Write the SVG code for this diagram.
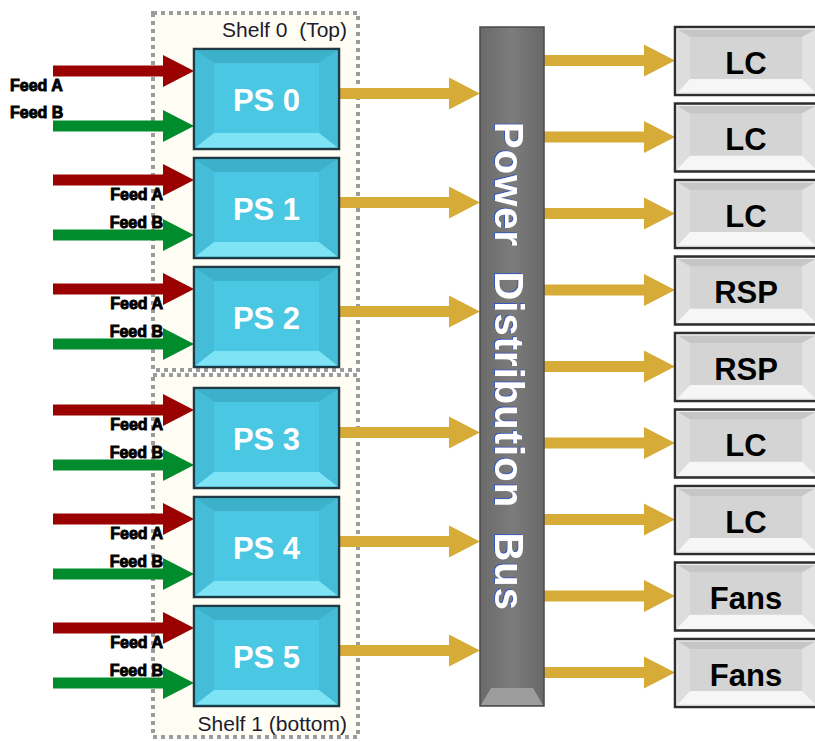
<svg xmlns="http://www.w3.org/2000/svg" xmlns:xlink="http://www.w3.org/1999/xlink" width="815" height="742" viewBox="0 0 815 742">
<style>
  .shelf { fill:#fffdf4; stroke:#9c9c9c; stroke-width:4; stroke-dasharray:4 4; }
  .shelfText { font-family:"Liberation Sans", Arial, sans-serif; font-size:21px; fill:#1c1c2e; }
  .feed { font-family:"Liberation Sans", Arial, sans-serif; font-size:16px; font-weight:bold; fill:#000; stroke:#000; stroke-width:0.9; }
  .psText { font-family:"Liberation Sans", Arial, sans-serif; font-size:31px; font-weight:bold; fill:#ffffff; text-anchor:middle; }
  .boxText { font-family:"Liberation Sans", Arial, sans-serif; font-size:31px; font-weight:bold; fill:#000; text-anchor:middle; }
  .busText { font-family:"Liberation Sans", Arial, sans-serif; font-size:40px; font-weight:bold; fill:#ffffff; }
  .red { fill:#9a0202; }
  .green { fill:#008c2c; }
  .gold { fill:#d6ab37; }
</style>
<defs>
  <path id="arrowLong" d="M0,-5.5 H110 V-16 L141,0 L110,16 V5.5 H0 Z"/>
  <path id="arrowShort" d="M0,-5.5 H101 V-16 L132,0 L101,16 V5.5 H0 Z"/>
  <g id="psShape">
    <rect x="0" y="0" width="145" height="100" fill="#48c4df" stroke="#1f3a42" stroke-width="2.5"/>
    <polygon points="1.5,1.5 143.5,1.5 125,14 20,14" fill="#3eb1ca"/>
    <polygon points="1.5,1.5 20,14 20,84 1.5,98.5" fill="#45bdd8"/>
    <polygon points="143.5,1.5 125,14 125,84 143.5,98.5" fill="#45bdd8"/>
    <polygon points="1.5,98.5 20,84 125,84 143.5,98.5" fill="#7de3f5"/>
    <rect x="20" y="14" width="105" height="70" fill="#4ac7e2"/>
  </g>
  <g id="boxShape">
    <rect x="0" y="0" width="143" height="68" fill="#d3d3d3" stroke="#2e2e2e" stroke-width="2.5"/>
    <polygon points="2.5,2.5 140.5,2.5 127,10 15,10" fill="#c6c6c6"/>
    <polygon points="2.5,2.5 15,10 15,52 2.5,65.5" fill="#dddddd"/>
    <polygon points="140.5,2.5 127,10 127,52 140.5,65.5" fill="#e2e2e2"/>
    <polygon points="2.5,65.5 15,52 127,52 140.5,65.5" fill="#f6f6f6"/>
    <rect x="15" y="10" width="112" height="42" fill="#d4d4d4"/>
    <rect x="2" y="2" width="139" height="64" fill="none" stroke="#f2f2f2" stroke-width="1"/>
  </g>
  <linearGradient id="busGrad" x1="0" y1="0" x2="1" y2="0">
    <stop offset="0" stop-color="#6a6a6a"/>
    <stop offset="0.5" stop-color="#7c7c7c"/>
    <stop offset="1" stop-color="#686868"/>
  </linearGradient>
  <filter id="busShadow" x="-20%" y="-5%" width="140%" height="110%">
    <feDropShadow dx="-1" dy="1" stdDeviation="0.6" flood-color="#2f55c8" flood-opacity="0.9"/>
  </filter>
</defs>

<g id="shelves">
  <g id="shelf0">
    <rect class="shelf" x="153" y="13" width="205" height="357"/>
    <text class="shelfText" x="347" y="37" text-anchor="end" xml:space="preserve">Shelf 0  (Top)</text>
  </g>
  <g id="shelf1">
    <rect class="shelf" x="153" y="375" width="205" height="362"/>
    <text class="shelfText" x="347" y="731" text-anchor="end">Shelf 1 (bottom)</text>
  </g>
</g>

<g id="connectors">
  <use href="#arrowLong" class="red" x="53" y="71"/>
  <use href="#arrowLong" class="red" x="53" y="180"/>
  <use href="#arrowLong" class="red" x="53" y="289"/>
  <use href="#arrowLong" class="red" x="53" y="410"/>
  <use href="#arrowLong" class="red" x="53" y="519"/>
  <use href="#arrowLong" class="red" x="53" y="628"/>
  <use href="#arrowLong" class="green" x="53" y="126"/>
  <use href="#arrowLong" class="green" x="53" y="235"/>
  <use href="#arrowLong" class="green" x="53" y="344"/>
  <use href="#arrowLong" class="green" x="53" y="465"/>
  <use href="#arrowLong" class="green" x="53" y="574"/>
  <use href="#arrowLong" class="green" x="53" y="683"/>
  <use href="#arrowLong" class="gold" x="339" y="93.5"/>
  <use href="#arrowLong" class="gold" x="339" y="202.5"/>
  <use href="#arrowLong" class="gold" x="339" y="311.5"/>
  <use href="#arrowLong" class="gold" x="339" y="432.5"/>
  <use href="#arrowLong" class="gold" x="339" y="541.5"/>
  <use href="#arrowLong" class="gold" x="339" y="650.5"/>
  <use href="#arrowShort" class="gold" x="543" y="60.5"/>
  <use href="#arrowShort" class="gold" x="543" y="137"/>
  <use href="#arrowShort" class="gold" x="543" y="213.5"/>
  <use href="#arrowShort" class="gold" x="543" y="290"/>
  <use href="#arrowShort" class="gold" x="543" y="366.5"/>
  <use href="#arrowShort" class="gold" x="543" y="443"/>
  <use href="#arrowShort" class="gold" x="543" y="519.5"/>
  <use href="#arrowShort" class="gold" x="543" y="596"/>
  <use href="#arrowShort" class="gold" x="543" y="672.5"/>
</g>

<g id="feedLabels">
  <text class="feed" x="10" y="91">Feed A</text>
  <text class="feed" x="10" y="118">Feed B</text>
  <text class="feed" x="163" y="200" text-anchor="end">Feed A</text>
  <text class="feed" x="163" y="228" text-anchor="end">Feed B</text>
  <text class="feed" x="163" y="309" text-anchor="end">Feed A</text>
  <text class="feed" x="163" y="337" text-anchor="end">Feed B</text>
  <text class="feed" x="163" y="430" text-anchor="end">Feed A</text>
  <text class="feed" x="163" y="458" text-anchor="end">Feed B</text>
  <text class="feed" x="163" y="539" text-anchor="end">Feed A</text>
  <text class="feed" x="163" y="567" text-anchor="end">Feed B</text>
  <text class="feed" x="163" y="648" text-anchor="end">Feed A</text>
  <text class="feed" x="163" y="676" text-anchor="end">Feed B</text>
</g>

<g id="ps0"><use href="#psShape" x="194" y="49"/><text class="psText" x="266.5" y="111">PS 0</text></g>
<g id="ps1"><use href="#psShape" x="194" y="158"/><text class="psText" x="266.5" y="220">PS 1</text></g>
<g id="ps2"><use href="#psShape" x="194" y="267"/><text class="psText" x="266.5" y="329">PS 2</text></g>
<g id="ps3"><use href="#psShape" x="194" y="388"/><text class="psText" x="266.5" y="450">PS 3</text></g>
<g id="ps4"><use href="#psShape" x="194" y="497"/><text class="psText" x="266.5" y="559">PS 4</text></g>
<g id="ps5"><use href="#psShape" x="194" y="606"/><text class="psText" x="266.5" y="668">PS 5</text></g>

<g id="bus">
  <rect x="480" y="27" width="64" height="679" fill="url(#busGrad)" stroke="#4a4a4a" stroke-width="1.5"/>
  <polygon points="481,705 491,688 533,688 543,705" fill="#9c9c9c"/>
  <text class="busText" filter="url(#busShadow)" transform="translate(495,122) rotate(90)" textLength="488" lengthAdjust="spacing" xml:space="preserve">Power  Distribution  Bus</text>
</g>

<g id="load1"><use href="#boxShape" x="675" y="27"/><text class="boxText" x="746" y="73.5">LC</text></g>
<g id="load2"><use href="#boxShape" x="675" y="103.5"/><text class="boxText" x="746" y="150">LC</text></g>
<g id="load3"><use href="#boxShape" x="675" y="180"/><text class="boxText" x="746" y="226.5">LC</text></g>
<g id="load4"><use href="#boxShape" x="675" y="256.5"/><text class="boxText" x="746" y="303">RSP</text></g>
<g id="load5"><use href="#boxShape" x="675" y="333"/><text class="boxText" x="746" y="379.5">RSP</text></g>
<g id="load6"><use href="#boxShape" x="675" y="409.5"/><text class="boxText" x="746" y="456">LC</text></g>
<g id="load7"><use href="#boxShape" x="675" y="486"/><text class="boxText" x="746" y="532.5">LC</text></g>
<g id="load8"><use href="#boxShape" x="675" y="562.5"/><text class="boxText" x="746" y="609">Fans</text></g>
<g id="load9"><use href="#boxShape" x="675" y="639"/><text class="boxText" x="746" y="685.5">Fans</text></g>
</svg>
